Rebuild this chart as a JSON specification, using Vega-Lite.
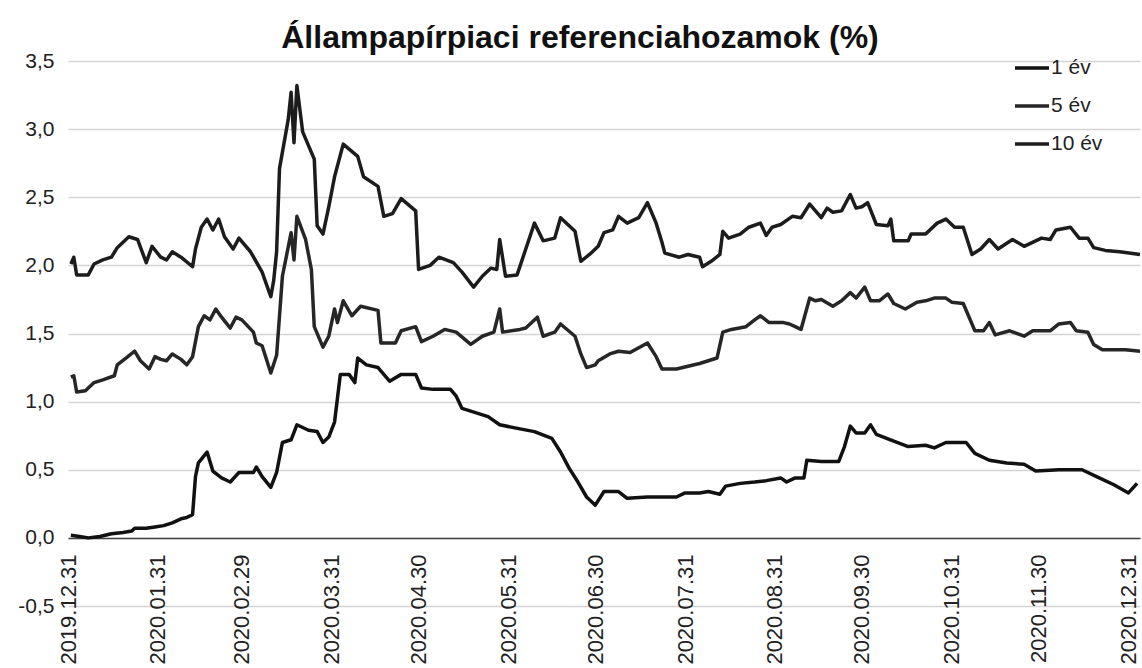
{
  "$schema": "https://vega.github.io/schema/vega-lite/v6.json",
  "width": 1072,
  "height": 545,
  "autosize": {"type": "none"},
  "padding": {"left": 68, "top": 61, "right": 2, "bottom": 62},
  "background": "white",
  "title": {"text": "Állampapírpiaci referenciahozamok (%)", "fontSize": 32, "font": "Liberation Sans", "fontWeight": "bold", "color": "#111111", "anchor": "middle", "dx": -24, "offset": -6},
  "data": {"values": [
    {"d":"2020-01-01","s":"10 év","v":2.01},{"d":"2020-01-02","s":"10 év","v":2.06},{"d":"2020-01-03","s":"10 év","v":1.93},{"d":"2020-01-07","s":"10 év","v":1.93},{"d":"2020-01-09","s":"10 év","v":2.01},{"d":"2020-01-12","s":"10 év","v":2.04},{"d":"2020-01-15","s":"10 év","v":2.06},{"d":"2020-01-17","s":"10 év","v":2.13},{"d":"2020-01-21","s":"10 év","v":2.21},{"d":"2020-01-24","s":"10 év","v":2.19},{"d":"2020-01-27","s":"10 év","v":2.02},{"d":"2020-01-29","s":"10 év","v":2.14},{"d":"2020-02-01","s":"10 év","v":2.06},{"d":"2020-02-03","s":"10 év","v":2.04},{"d":"2020-02-05","s":"10 év","v":2.10},{"d":"2020-02-08","s":"10 év","v":2.06},{"d":"2020-02-12","s":"10 év","v":1.99},{"d":"2020-02-13","s":"10 év","v":2.12},{"d":"2020-02-15","s":"10 év","v":2.28},{"d":"2020-02-17","s":"10 év","v":2.34},{"d":"2020-02-19","s":"10 év","v":2.26},{"d":"2020-02-21","s":"10 év","v":2.34},{"d":"2020-02-23","s":"10 év","v":2.21},{"d":"2020-02-26","s":"10 év","v":2.12},{"d":"2020-02-28","s":"10 év","v":2.20},{"d":"2020-03-03","s":"10 év","v":2.10},{"d":"2020-03-07","s":"10 év","v":1.95},{"d":"2020-03-10","s":"10 év","v":1.77},{"d":"2020-03-11","s":"10 év","v":1.89},{"d":"2020-03-12","s":"10 év","v":2.10},{"d":"2020-03-13","s":"10 év","v":2.71},{"d":"2020-03-16","s":"10 év","v":3.07},{"d":"2020-03-17","s":"10 év","v":3.27},{"d":"2020-03-18","s":"10 év","v":2.90},{"d":"2020-03-19","s":"10 év","v":3.32},{"d":"2020-03-21","s":"10 év","v":2.98},{"d":"2020-03-25","s":"10 év","v":2.78},{"d":"2020-03-26","s":"10 év","v":2.29},{"d":"2020-03-28","s":"10 év","v":2.23},{"d":"2020-03-30","s":"10 év","v":2.43},{"d":"2020-04-01","s":"10 év","v":2.65},{"d":"2020-04-04","s":"10 év","v":2.89},{"d":"2020-04-09","s":"10 év","v":2.80},{"d":"2020-04-11","s":"10 év","v":2.65},{"d":"2020-04-16","s":"10 év","v":2.58},{"d":"2020-04-18","s":"10 év","v":2.36},{"d":"2020-04-21","s":"10 év","v":2.38},{"d":"2020-04-24","s":"10 év","v":2.49},{"d":"2020-04-29","s":"10 év","v":2.40},{"d":"2020-04-30","s":"10 év","v":1.97},{"d":"2020-05-04","s":"10 év","v":2.00},{"d":"2020-05-07","s":"10 év","v":2.06},{"d":"2020-05-12","s":"10 év","v":2.02},{"d":"2020-05-15","s":"10 év","v":1.95},{"d":"2020-05-19","s":"10 év","v":1.84},{"d":"2020-05-22","s":"10 év","v":1.92},{"d":"2020-05-25","s":"10 év","v":1.98},{"d":"2020-05-27","s":"10 év","v":1.97},{"d":"2020-05-28","s":"10 év","v":2.19},{"d":"2020-05-30","s":"10 év","v":1.92},{"d":"2020-06-03","s":"10 év","v":1.93},{"d":"2020-06-06","s":"10 év","v":2.12},{"d":"2020-06-09","s":"10 év","v":2.31},{"d":"2020-06-12","s":"10 év","v":2.18},{"d":"2020-06-16","s":"10 év","v":2.20},{"d":"2020-06-18","s":"10 év","v":2.35},{"d":"2020-06-23","s":"10 év","v":2.25},{"d":"2020-06-25","s":"10 év","v":2.03},{"d":"2020-06-28","s":"10 év","v":2.08},{"d":"2020-07-01","s":"10 év","v":2.14},{"d":"2020-07-03","s":"10 év","v":2.24},{"d":"2020-07-06","s":"10 év","v":2.26},{"d":"2020-07-08","s":"10 év","v":2.36},{"d":"2020-07-11","s":"10 év","v":2.31},{"d":"2020-07-15","s":"10 év","v":2.35},{"d":"2020-07-18","s":"10 év","v":2.46},{"d":"2020-07-21","s":"10 év","v":2.31},{"d":"2020-07-23","s":"10 év","v":2.17},{"d":"2020-07-24","s":"10 év","v":2.09},{"d":"2020-07-29","s":"10 év","v":2.06},{"d":"2020-08-01","s":"10 év","v":2.08},{"d":"2020-08-05","s":"10 év","v":2.06},{"d":"2020-08-06","s":"10 év","v":1.99},{"d":"2020-08-09","s":"10 év","v":2.03},{"d":"2020-08-12","s":"10 év","v":2.08},{"d":"2020-08-13","s":"10 év","v":2.25},{"d":"2020-08-15","s":"10 év","v":2.20},{"d":"2020-08-19","s":"10 év","v":2.23},{"d":"2020-08-22","s":"10 év","v":2.28},{"d":"2020-08-26","s":"10 év","v":2.31},{"d":"2020-08-28","s":"10 év","v":2.22},{"d":"2020-08-30","s":"10 év","v":2.28},{"d":"2020-09-02","s":"10 év","v":2.30},{"d":"2020-09-06","s":"10 év","v":2.36},{"d":"2020-09-09","s":"10 év","v":2.35},{"d":"2020-09-12","s":"10 év","v":2.45},{"d":"2020-09-16","s":"10 év","v":2.35},{"d":"2020-09-18","s":"10 év","v":2.42},{"d":"2020-09-20","s":"10 év","v":2.39},{"d":"2020-09-23","s":"10 év","v":2.40},{"d":"2020-09-26","s":"10 év","v":2.52},{"d":"2020-09-28","s":"10 év","v":2.42},{"d":"2020-09-30","s":"10 év","v":2.43},{"d":"2020-10-02","s":"10 év","v":2.46},{"d":"2020-10-05","s":"10 év","v":2.30},{"d":"2020-10-09","s":"10 év","v":2.29},{"d":"2020-10-10","s":"10 év","v":2.34},{"d":"2020-10-11","s":"10 év","v":2.18},{"d":"2020-10-16","s":"10 év","v":2.18},{"d":"2020-10-17","s":"10 év","v":2.23},{"d":"2020-10-22","s":"10 év","v":2.23},{"d":"2020-10-26","s":"10 év","v":2.31},{"d":"2020-10-29","s":"10 év","v":2.34},{"d":"2020-11-01","s":"10 év","v":2.28},{"d":"2020-11-04","s":"10 év","v":2.28},{"d":"2020-11-07","s":"10 év","v":2.08},{"d":"2020-11-10","s":"10 év","v":2.12},{"d":"2020-11-13","s":"10 év","v":2.19},{"d":"2020-11-16","s":"10 év","v":2.12},{"d":"2020-11-21","s":"10 év","v":2.19},{"d":"2020-11-25","s":"10 év","v":2.14},{"d":"2020-12-01","s":"10 év","v":2.20},{"d":"2020-12-04","s":"10 év","v":2.19},{"d":"2020-12-06","s":"10 év","v":2.26},{"d":"2020-12-11","s":"10 év","v":2.28},{"d":"2020-12-14","s":"10 év","v":2.20},{"d":"2020-12-17","s":"10 év","v":2.20},{"d":"2020-12-19","s":"10 év","v":2.13},{"d":"2020-12-23","s":"10 év","v":2.11},{"d":"2020-12-28","s":"10 év","v":2.10},{"d":"2021-01-04","s":"10 év","v":2.08},
    {"d":"2020-01-01","s":"5 év","v":1.18},{"d":"2020-01-02","s":"5 év","v":1.19},{"d":"2020-01-03","s":"5 év","v":1.07},{"d":"2020-01-06","s":"5 év","v":1.08},{"d":"2020-01-09","s":"5 év","v":1.14},{"d":"2020-01-12","s":"5 év","v":1.16},{"d":"2020-01-16","s":"5 év","v":1.19},{"d":"2020-01-17","s":"5 év","v":1.27},{"d":"2020-01-20","s":"5 év","v":1.32},{"d":"2020-01-23","s":"5 év","v":1.37},{"d":"2020-01-25","s":"5 év","v":1.30},{"d":"2020-01-28","s":"5 év","v":1.24},{"d":"2020-01-30","s":"5 év","v":1.33},{"d":"2020-02-01","s":"5 év","v":1.31},{"d":"2020-02-03","s":"5 év","v":1.30},{"d":"2020-02-05","s":"5 év","v":1.35},{"d":"2020-02-08","s":"5 év","v":1.31},{"d":"2020-02-10","s":"5 év","v":1.27},{"d":"2020-02-12","s":"5 év","v":1.33},{"d":"2020-02-14","s":"5 év","v":1.55},{"d":"2020-02-16","s":"5 év","v":1.63},{"d":"2020-02-18","s":"5 év","v":1.60},{"d":"2020-02-20","s":"5 év","v":1.68},{"d":"2020-02-22","s":"5 év","v":1.62},{"d":"2020-02-25","s":"5 év","v":1.54},{"d":"2020-02-27","s":"5 év","v":1.62},{"d":"2020-02-29","s":"5 év","v":1.60},{"d":"2020-03-04","s":"5 év","v":1.51},{"d":"2020-03-05","s":"5 év","v":1.43},{"d":"2020-03-07","s":"5 év","v":1.41},{"d":"2020-03-10","s":"5 év","v":1.21},{"d":"2020-03-12","s":"5 év","v":1.34},{"d":"2020-03-14","s":"5 év","v":1.92},{"d":"2020-03-17","s":"5 év","v":2.24},{"d":"2020-03-18","s":"5 év","v":2.04},{"d":"2020-03-19","s":"5 év","v":2.36},{"d":"2020-03-22","s":"5 év","v":2.19},{"d":"2020-03-24","s":"5 év","v":1.97},{"d":"2020-03-25","s":"5 év","v":1.55},{"d":"2020-03-28","s":"5 év","v":1.40},{"d":"2020-03-30","s":"5 év","v":1.48},{"d":"2020-04-01","s":"5 év","v":1.68},{"d":"2020-04-02","s":"5 év","v":1.58},{"d":"2020-04-04","s":"5 év","v":1.74},{"d":"2020-04-07","s":"5 év","v":1.63},{"d":"2020-04-10","s":"5 év","v":1.70},{"d":"2020-04-16","s":"5 év","v":1.67},{"d":"2020-04-17","s":"5 év","v":1.43},{"d":"2020-04-22","s":"5 év","v":1.43},{"d":"2020-04-24","s":"5 év","v":1.52},{"d":"2020-04-29","s":"5 év","v":1.55},{"d":"2020-05-01","s":"5 év","v":1.44},{"d":"2020-05-05","s":"5 év","v":1.48},{"d":"2020-05-09","s":"5 év","v":1.53},{"d":"2020-05-13","s":"5 év","v":1.51},{"d":"2020-05-18","s":"5 év","v":1.42},{"d":"2020-05-22","s":"5 év","v":1.48},{"d":"2020-05-26","s":"5 év","v":1.51},{"d":"2020-05-28","s":"5 év","v":1.68},{"d":"2020-05-29","s":"5 év","v":1.51},{"d":"2020-06-04","s":"5 év","v":1.53},{"d":"2020-06-06","s":"5 év","v":1.54},{"d":"2020-06-10","s":"5 év","v":1.62},{"d":"2020-06-12","s":"5 év","v":1.48},{"d":"2020-06-16","s":"5 év","v":1.51},{"d":"2020-06-18","s":"5 év","v":1.57},{"d":"2020-06-23","s":"5 év","v":1.48},{"d":"2020-06-25","s":"5 év","v":1.35},{"d":"2020-06-27","s":"5 év","v":1.25},{"d":"2020-06-30","s":"5 év","v":1.27},{"d":"2020-07-01","s":"5 év","v":1.30},{"d":"2020-07-05","s":"5 év","v":1.35},{"d":"2020-07-08","s":"5 év","v":1.37},{"d":"2020-07-12","s":"5 év","v":1.36},{"d":"2020-07-18","s":"5 év","v":1.43},{"d":"2020-07-21","s":"5 év","v":1.33},{"d":"2020-07-23","s":"5 év","v":1.24},{"d":"2020-07-28","s":"5 év","v":1.24},{"d":"2020-08-01","s":"5 év","v":1.26},{"d":"2020-08-05","s":"5 év","v":1.28},{"d":"2020-08-11","s":"5 év","v":1.32},{"d":"2020-08-13","s":"5 év","v":1.51},{"d":"2020-08-16","s":"5 év","v":1.53},{"d":"2020-08-21","s":"5 év","v":1.55},{"d":"2020-08-24","s":"5 év","v":1.60},{"d":"2020-08-26","s":"5 év","v":1.63},{"d":"2020-08-29","s":"5 év","v":1.58},{"d":"2020-09-03","s":"5 év","v":1.58},{"d":"2020-09-05","s":"5 év","v":1.57},{"d":"2020-09-07","s":"5 év","v":1.55},{"d":"2020-09-09","s":"5 év","v":1.53},{"d":"2020-09-12","s":"5 év","v":1.76},{"d":"2020-09-14","s":"5 év","v":1.74},{"d":"2020-09-16","s":"5 év","v":1.75},{"d":"2020-09-20","s":"5 év","v":1.70},{"d":"2020-09-23","s":"5 év","v":1.74},{"d":"2020-09-26","s":"5 év","v":1.80},{"d":"2020-09-28","s":"5 év","v":1.76},{"d":"2020-10-01","s":"5 év","v":1.84},{"d":"2020-10-03","s":"5 év","v":1.74},{"d":"2020-10-06","s":"5 év","v":1.74},{"d":"2020-10-09","s":"5 év","v":1.79},{"d":"2020-10-11","s":"5 év","v":1.72},{"d":"2020-10-15","s":"5 év","v":1.68},{"d":"2020-10-19","s":"5 év","v":1.73},{"d":"2020-10-22","s":"5 év","v":1.74},{"d":"2020-10-25","s":"5 év","v":1.76},{"d":"2020-10-29","s":"5 év","v":1.76},{"d":"2020-10-31","s":"5 év","v":1.73},{"d":"2020-11-04","s":"5 év","v":1.72},{"d":"2020-11-08","s":"5 év","v":1.52},{"d":"2020-11-11","s":"5 év","v":1.52},{"d":"2020-11-13","s":"5 év","v":1.58},{"d":"2020-11-15","s":"5 év","v":1.49},{"d":"2020-11-20","s":"5 év","v":1.52},{"d":"2020-11-25","s":"5 év","v":1.48},{"d":"2020-11-28","s":"5 év","v":1.52},{"d":"2020-12-04","s":"5 év","v":1.52},{"d":"2020-12-07","s":"5 év","v":1.57},{"d":"2020-12-11","s":"5 év","v":1.58},{"d":"2020-12-13","s":"5 év","v":1.52},{"d":"2020-12-17","s":"5 év","v":1.51},{"d":"2020-12-19","s":"5 év","v":1.42},{"d":"2020-12-22","s":"5 év","v":1.38},{"d":"2020-12-30","s":"5 év","v":1.38},{"d":"2021-01-04","s":"5 év","v":1.37},
    {"d":"2020-01-01","s":"1 év","v":0.02},{"d":"2020-01-04","s":"1 év","v":0.01},{"d":"2020-01-07","s":"1 év","v":0.00},{"d":"2020-01-11","s":"1 év","v":0.01},{"d":"2020-01-15","s":"1 év","v":0.03},{"d":"2020-01-19","s":"1 év","v":0.04},{"d":"2020-01-22","s":"1 év","v":0.05},{"d":"2020-01-23","s":"1 év","v":0.07},{"d":"2020-01-27","s":"1 év","v":0.07},{"d":"2020-01-30","s":"1 év","v":0.08},{"d":"2020-02-02","s":"1 év","v":0.09},{"d":"2020-02-05","s":"1 év","v":0.11},{"d":"2020-02-08","s":"1 év","v":0.14},{"d":"2020-02-10","s":"1 év","v":0.15},{"d":"2020-02-12","s":"1 év","v":0.17},{"d":"2020-02-13","s":"1 év","v":0.45},{"d":"2020-02-14","s":"1 év","v":0.55},{"d":"2020-02-17","s":"1 év","v":0.63},{"d":"2020-02-19","s":"1 év","v":0.49},{"d":"2020-02-22","s":"1 év","v":0.44},{"d":"2020-02-25","s":"1 év","v":0.41},{"d":"2020-02-28","s":"1 év","v":0.48},{"d":"2020-03-04","s":"1 év","v":0.48},{"d":"2020-03-05","s":"1 év","v":0.52},{"d":"2020-03-07","s":"1 év","v":0.45},{"d":"2020-03-10","s":"1 év","v":0.37},{"d":"2020-03-12","s":"1 év","v":0.48},{"d":"2020-03-14","s":"1 év","v":0.70},{"d":"2020-03-17","s":"1 év","v":0.72},{"d":"2020-03-19","s":"1 év","v":0.83},{"d":"2020-03-23","s":"1 év","v":0.79},{"d":"2020-03-26","s":"1 év","v":0.78},{"d":"2020-03-28","s":"1 év","v":0.70},{"d":"2020-03-30","s":"1 év","v":0.74},{"d":"2020-04-01","s":"1 év","v":0.85},{"d":"2020-04-03","s":"1 év","v":1.20},{"d":"2020-04-06","s":"1 év","v":1.20},{"d":"2020-04-08","s":"1 év","v":1.14},{"d":"2020-04-09","s":"1 év","v":1.32},{"d":"2020-04-12","s":"1 év","v":1.27},{"d":"2020-04-16","s":"1 év","v":1.25},{"d":"2020-04-20","s":"1 év","v":1.15},{"d":"2020-04-24","s":"1 év","v":1.20},{"d":"2020-04-29","s":"1 év","v":1.20},{"d":"2020-05-01","s":"1 év","v":1.10},{"d":"2020-05-05","s":"1 év","v":1.09},{"d":"2020-05-11","s":"1 év","v":1.09},{"d":"2020-05-13","s":"1 év","v":1.04},{"d":"2020-05-15","s":"1 év","v":0.95},{"d":"2020-05-18","s":"1 év","v":0.93},{"d":"2020-05-24","s":"1 év","v":0.89},{"d":"2020-05-28","s":"1 év","v":0.83},{"d":"2020-06-04","s":"1 év","v":0.80},{"d":"2020-06-09","s":"1 év","v":0.78},{"d":"2020-06-15","s":"1 év","v":0.73},{"d":"2020-06-18","s":"1 év","v":0.63},{"d":"2020-06-21","s":"1 év","v":0.51},{"d":"2020-06-24","s":"1 év","v":0.41},{"d":"2020-06-27","s":"1 év","v":0.30},{"d":"2020-06-30","s":"1 év","v":0.24},{"d":"2020-07-03","s":"1 év","v":0.34},{"d":"2020-07-08","s":"1 év","v":0.34},{"d":"2020-07-11","s":"1 év","v":0.29},{"d":"2020-07-18","s":"1 év","v":0.30},{"d":"2020-07-28","s":"1 év","v":0.30},{"d":"2020-07-31","s":"1 év","v":0.33},{"d":"2020-08-05","s":"1 év","v":0.33},{"d":"2020-08-08","s":"1 év","v":0.34},{"d":"2020-08-12","s":"1 év","v":0.32},{"d":"2020-08-14","s":"1 év","v":0.38},{"d":"2020-08-19","s":"1 év","v":0.40},{"d":"2020-08-24","s":"1 év","v":0.41},{"d":"2020-08-28","s":"1 év","v":0.42},{"d":"2020-09-02","s":"1 év","v":0.44},{"d":"2020-09-04","s":"1 év","v":0.41},{"d":"2020-09-07","s":"1 év","v":0.44},{"d":"2020-09-10","s":"1 év","v":0.44},{"d":"2020-09-11","s":"1 év","v":0.57},{"d":"2020-09-16","s":"1 év","v":0.56},{"d":"2020-09-22","s":"1 év","v":0.56},{"d":"2020-09-24","s":"1 év","v":0.67},{"d":"2020-09-26","s":"1 év","v":0.82},{"d":"2020-09-28","s":"1 év","v":0.77},{"d":"2020-10-01","s":"1 év","v":0.77},{"d":"2020-10-03","s":"1 év","v":0.83},{"d":"2020-10-05","s":"1 év","v":0.76},{"d":"2020-10-11","s":"1 év","v":0.71},{"d":"2020-10-16","s":"1 év","v":0.67},{"d":"2020-10-22","s":"1 év","v":0.68},{"d":"2020-10-25","s":"1 év","v":0.66},{"d":"2020-10-29","s":"1 év","v":0.70},{"d":"2020-11-05","s":"1 év","v":0.70},{"d":"2020-11-08","s":"1 év","v":0.62},{"d":"2020-11-13","s":"1 év","v":0.57},{"d":"2020-11-19","s":"1 év","v":0.55},{"d":"2020-11-25","s":"1 év","v":0.54},{"d":"2020-11-29","s":"1 év","v":0.49},{"d":"2020-12-07","s":"1 év","v":0.50},{"d":"2020-12-15","s":"1 év","v":0.50},{"d":"2020-12-20","s":"1 év","v":0.45},{"d":"2020-12-26","s":"1 év","v":0.39},{"d":"2020-12-31","s":"1 év","v":0.33},{"d":"2021-01-03","s":"1 év","v":0.40}
  ]},
  "mark": {"type": "line", "strokeWidth": 3.5, "strokeJoin": "round"},
  "encoding": {
    "x": {
      "field": "d", "type": "temporal",
      "scale": {"type": "utc", "domain": [{"year": 2019, "month": 12, "date": 31, "utc": true}, {"year": 2021, "month": 1, "date": 4, "utc": true}]},
      "axis": {
        "values": [
          {"year": 2019, "month": 12, "date": 31, "utc": true},
          {"year": 2020, "month": 1, "date": 31, "utc": true},
          {"year": 2020, "month": 2, "date": 29, "utc": true},
          {"year": 2020, "month": 3, "date": 31, "utc": true},
          {"year": 2020, "month": 4, "date": 30, "utc": true},
          {"year": 2020, "month": 5, "date": 31, "utc": true},
          {"year": 2020, "month": 6, "date": 30, "utc": true},
          {"year": 2020, "month": 7, "date": 31, "utc": true},
          {"year": 2020, "month": 8, "date": 31, "utc": true},
          {"year": 2020, "month": 9, "date": 30, "utc": true},
          {"year": 2020, "month": 10, "date": 31, "utc": true},
          {"year": 2020, "month": 11, "date": 30, "utc": true},
          {"year": 2020, "month": 12, "date": 31, "utc": true}
        ],
        "format": "%Y.%m.%d",
        "labelAngle": -90,
        "labelFontSize": 22,
        "labelFont": "Liberation Sans",
        "labelColor": "#222222",
        "labelPadding": 16,
        "labelOverlap": false,
        "labelFlush": false,
        "ticks": false,
        "grid": false,
        "domainColor": "#444444",
        "domainWidth": 1.5,
        "offset": -68,
        "title": null
      }
    },
    "y": {
      "field": "v", "type": "quantitative",
      "scale": {"domain": [-0.5, 3.5], "nice": false, "zero": false},
      "axis": {
        "values": [-0.5, 0, 0.5, 1, 1.5, 2, 2.5, 3, 3.5],
        "format": ".1f",
        "labelFontSize": 21,
        "labelFont": "Liberation Sans",
        "labelColor": "#222222",
        "labelPadding": 14,
        "ticks": false,
        "domain": false,
        "gridColor": "#d4d4d4",
        "gridWidth": 1.5,
        "title": null
      }
    },
    "color": {
      "field": "s", "type": "nominal",
      "scale": {"domain": ["1 év", "5 év", "10 év"], "range": ["#111111", "#262626", "#1c1c1c"]},
      "legend": {
        "orient": "none", "legendX": 945, "legendY": -12, "title": null,
        "symbolType": "stroke", "symbolSize": 1156, "symbolStrokeWidth": 3.5,
        "labelFontSize": 21, "labelFont": "Liberation Sans", "labelColor": "#222222",
        "labelOffset": 0, "rowPadding": 9, "padding": 0
      }
    }
  },
  "config": {
    "view": {"stroke": null},
    "font": "Liberation Sans",
    "locale": {"number": {"decimal": ",", "thousands": " ", "grouping": [3], "currency": ["", " Ft"], "minus": "-"}}
  }
}
